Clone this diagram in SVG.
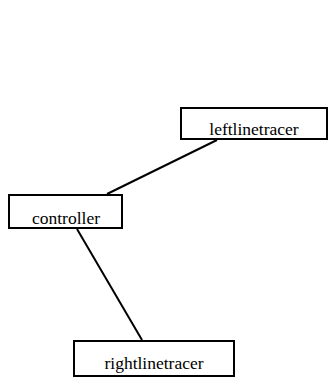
<svg xmlns="http://www.w3.org/2000/svg" width="329" height="378" viewBox="0 0 329 378">
  <style>
    .box { fill: #ffffff; stroke: #000000; stroke-width: 2; }
    .edge { fill: none; stroke: #000000; stroke-width: 2; }
    .label { font-family: "Liberation Serif", "Times New Roman", serif; font-size: 17.5px; fill: #000000; text-anchor: middle; }
  </style>
  <rect width="329" height="378" fill="#ffffff"/>
  <g id="connectors">
    <line class="edge" x1="107" y1="194" x2="217" y2="140"/>
    <line class="edge" x1="77" y1="229" x2="142" y2="340"/>
  </g>
  <g id="leftlinetracer">
    <rect class="box" x="181" y="108" width="146" height="31"/>
    <text class="label" x="254" y="135">leftlinetracer</text>
  </g>
  <g id="controller">
    <rect class="box" x="9" y="195" width="113" height="33"/>
    <text class="label" x="66" y="224">controller</text>
  </g>
  <g id="rightlinetracer">
    <rect class="box" x="74" y="341" width="160" height="35"/>
    <text class="label" x="154" y="369">rightlinetracer</text>
  </g>
</svg>
